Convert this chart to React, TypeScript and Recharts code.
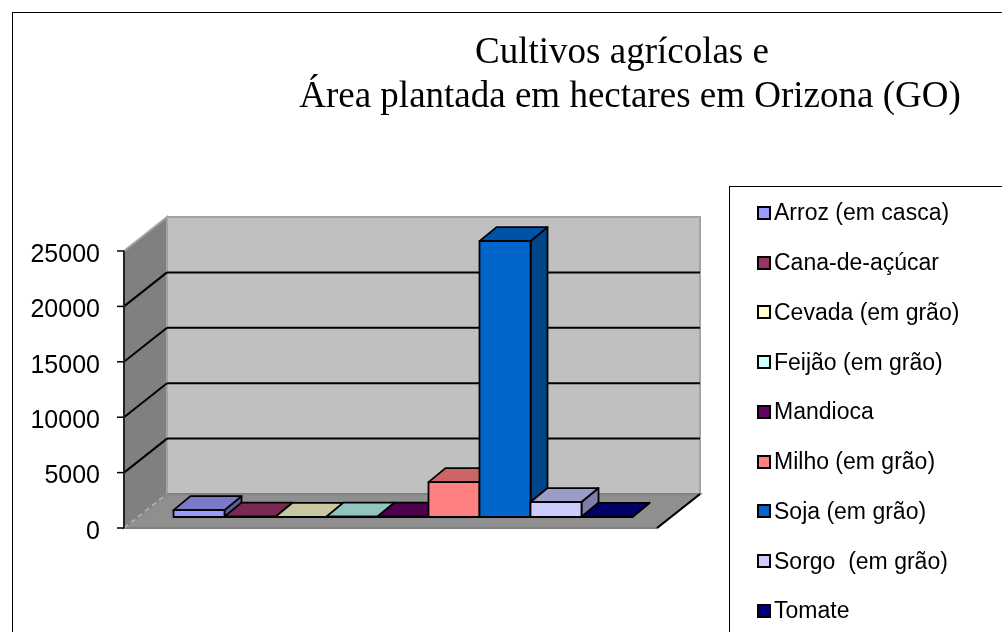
import { BarChart, Bar, XAxis, YAxis, CartesianGrid, Legend } from "recharts"

const seriesNames = [
  "Arroz (em casca)",
  "Cana-de-açúcar",
  "Cevada (em grão)",
  "Feijão (em grão)",
  "Mandioca",
  "Milho (em grão)",
  "Soja (em grão)",
  "Sorgo  (em grão)",
  "Tomate",
]
const seriesValues = [620, 30, 20, 30, 40, 3150, 24900, 1350, 20]
const seriesColors = ["#9999ff", "#993366", "#ffffcc", "#ccffff", "#660066", "#ff8080", "#0066cc", "#ccccff", "#000080"]
const topColors = ["#7a7acc", "#7a2952", "#c8c8a0", "#92c4c0", "#4d004d", "#cc6666", "#0052a8", "#9c9cc8", "#000066"]
const sideColors = ["#5c5c99", "#5c1f3d", "#999979", "#7a9999", "#3d003d", "#994d4d", "#00448a", "#7e7ea6", "#00004d"]
const yTicks = [0, 5000, 10000, 15000, 20000, 25000]

const chartData = [
  Object.fromEntries([["name", "Orizona"], ...seriesNames.map((n, i) => [n, seriesValues[i]])]),
]

const ARIAL = "'Liberation Sans', Arial, sans-serif"
const SERIF = "'Liberation Serif', 'Times New Roman', serif"
const WIDTH = 1002
const HEIGHT = 632
const PLOT = { left: 124, right: 657, top: 251, bottom: 528 }
const DEPTH_X = 43
const DEPTH_Y = -34

// the bars stand a little behind the front edge of the floor
const BAR_OFFSET_X = 12.5
const BAR_OFFSET_Y = -11
const BAR_DEPTH_X = 17
const BAR_DEPTH_Y = -14

function Bar3D(props: any) {
  const { x, y, width, height, index } = props
  const i = props.seriesIndex
  const l = x + BAR_OFFSET_X
  const r = l + width
  const t = y + BAR_OFFSET_Y
  const b = t + height
  const line = { stroke: "#000", strokeWidth: 1.8, strokeLinejoin: "round" as const }
  return (
    <g key={index}>
      <polygon
        points={`${r},${t} ${r + BAR_DEPTH_X},${t + BAR_DEPTH_Y} ${r + BAR_DEPTH_X},${b + BAR_DEPTH_Y} ${r},${b}`}
        fill={sideColors[i]}
        {...line}
      />
      <polygon
        points={`${l},${t} ${l + BAR_DEPTH_X},${t + BAR_DEPTH_Y} ${r + BAR_DEPTH_X},${t + BAR_DEPTH_Y} ${r},${t}`}
        fill={topColors[i]}
        {...line}
      />
      <rect x={l} y={t} width={width} height={height} fill={seriesColors[i]} {...line} />
    </g>
  )
}

function GridLine(props: any) {
  const { x1, y1, x2 } = props
  if (y1 <= PLOT.top + 1 || y1 >= PLOT.bottom - 1) return <g key={props.key} />
  return (
    <g key={props.key}>
      <line x1={x1} y1={y1} x2={x1 + DEPTH_X} y2={y1 + DEPTH_Y} stroke="#000" strokeWidth={2} />
      <line x1={x1 + DEPTH_X} y1={y1 + DEPTH_Y} x2={x2 + DEPTH_X} y2={y1 + DEPTH_Y} stroke="#000" strokeWidth={2} />
    </g>
  )
}

// drawn in its own svg behind the chart, recharts would paint loose children over the bars
function Walls() {
  const { left, right, top, bottom } = PLOT
  const edge = { stroke: "#a3a3a3", strokeWidth: 2 }
  return (
    <svg width={WIDTH} height={HEIGHT} style={{ position: "absolute", left: 0, top: 0 }}>
      <polygon
        points={`${left + DEPTH_X},${top + DEPTH_Y} ${right + DEPTH_X},${top + DEPTH_Y} ${right + DEPTH_X},${bottom + DEPTH_Y} ${left + DEPTH_X},${bottom + DEPTH_Y}`}
        fill="#c0c0c0"
        {...edge}
      />
      <polygon
        points={`${left},${top} ${left + DEPTH_X},${top + DEPTH_Y} ${left + DEPTH_X},${bottom + DEPTH_Y} ${left},${bottom}`}
        fill="#808080"
        {...edge}
      />
      <polygon
        points={`${left},${bottom} ${left + DEPTH_X},${bottom + DEPTH_Y} ${right + DEPTH_X},${bottom + DEPTH_Y} ${right},${bottom}`}
        fill="#8f8f8f"
        stroke="#808080"
        strokeWidth={2}
      />
      <line
        x1={left}
        y1={bottom}
        x2={left + DEPTH_X}
        y2={bottom + DEPTH_Y}
        stroke="#b5b5b5"
        strokeWidth={1.5}
        strokeDasharray="5 4"
      />
      <line x1={right} y1={bottom} x2={right + DEPTH_X} y2={bottom + DEPTH_Y} stroke="#000" strokeWidth={2} />
    </svg>
  )
}

function LegendBox(props: any) {
  return (
    <div
      style={{
        width: 300,
        height: 470,
        boxSizing: "border-box",
        border: "1px solid #000",
        background: "#fff",
        paddingTop: 1,
        fontFamily: ARIAL,
        fontSize: 23,
        color: "#000",
      }}
    >
      {props.payload.map((item: any) => (
        <div key={item.value} style={{ display: "flex", alignItems: "center", height: 49.75, paddingLeft: 27 }}>
          <span
            style={{
              width: 14,
              height: 14,
              boxSizing: "border-box",
              border: "2px solid #000",
              background: item.color,
              marginRight: 3,
            }}
          />
          <span style={{ whiteSpace: "pre" }}>{item.value}</span>
        </div>
      ))}
    </div>
  )
}

export default function App() {
  return (
    <div
      style={{
        position: "absolute",
        left: 0,
        top: 0,
        width: WIDTH,
        height: HEIGHT,
        overflow: "hidden",
        background: "#fff",
        filter: "blur(0.4px)",
      }}
    >
      <div style={{ position: "absolute", left: 12, top: 12, width: 1100, height: 800, border: "1px solid #000" }} />
      <Walls />
      <div style={{ position: "absolute", left: 0, top: 0 }}>
        <BarChart
          width={WIDTH}
          height={HEIGHT}
          data={chartData}
          margin={{ left: 0, right: WIDTH - PLOT.right, top: PLOT.top, bottom: HEIGHT - PLOT.bottom }}
          barSize={51}
          barGap={0}
        >
          <CartesianGrid vertical={false} horizontal={(p: any) => <GridLine {...p} />} />
          <XAxis dataKey="name" height={0} tick={false} tickLine={false} axisLine={{ stroke: "#000", strokeWidth: 2 }} />
          <YAxis
            width={124}
            domain={[0, 25000]}
            ticks={yTicks}
            interval={0}
            tick={{ fill: "#000", fontFamily: ARIAL, fontSize: 25, dy: 2 }}
            tickSize={7}
            tickMargin={17}
            tickLine={{ stroke: "#000", strokeWidth: 1.5 }}
            axisLine={{ stroke: "#222", strokeWidth: 2 }}
          />
          <Legend
            layout="vertical"
            align="center"
            verticalAlign="middle"
            content={<LegendBox />}
            wrapperStyle={{ left: 729, top: 186, width: 300, height: 470, margin: 0 }}
          />
          {seriesNames.map((name, i) => (
            <Bar
              key={name}
              dataKey={name}
              name={name}
              fill={seriesColors[i]}
              isAnimationActive={false}
              shape={(p: any) => <Bar3D {...p} seriesIndex={i} />}
            />
          ))}
          <text x={622} y={63} textAnchor="middle" fontFamily={SERIF} fontSize={37}>
            Cultivos agrícolas e
          </text>
          <text x={630} y={107} textAnchor="middle" fontFamily={SERIF} fontSize={37}>
            Área plantada em hectares em Orizona (GO)
          </text>
        </BarChart>
      </div>
    </div>
  )
}
